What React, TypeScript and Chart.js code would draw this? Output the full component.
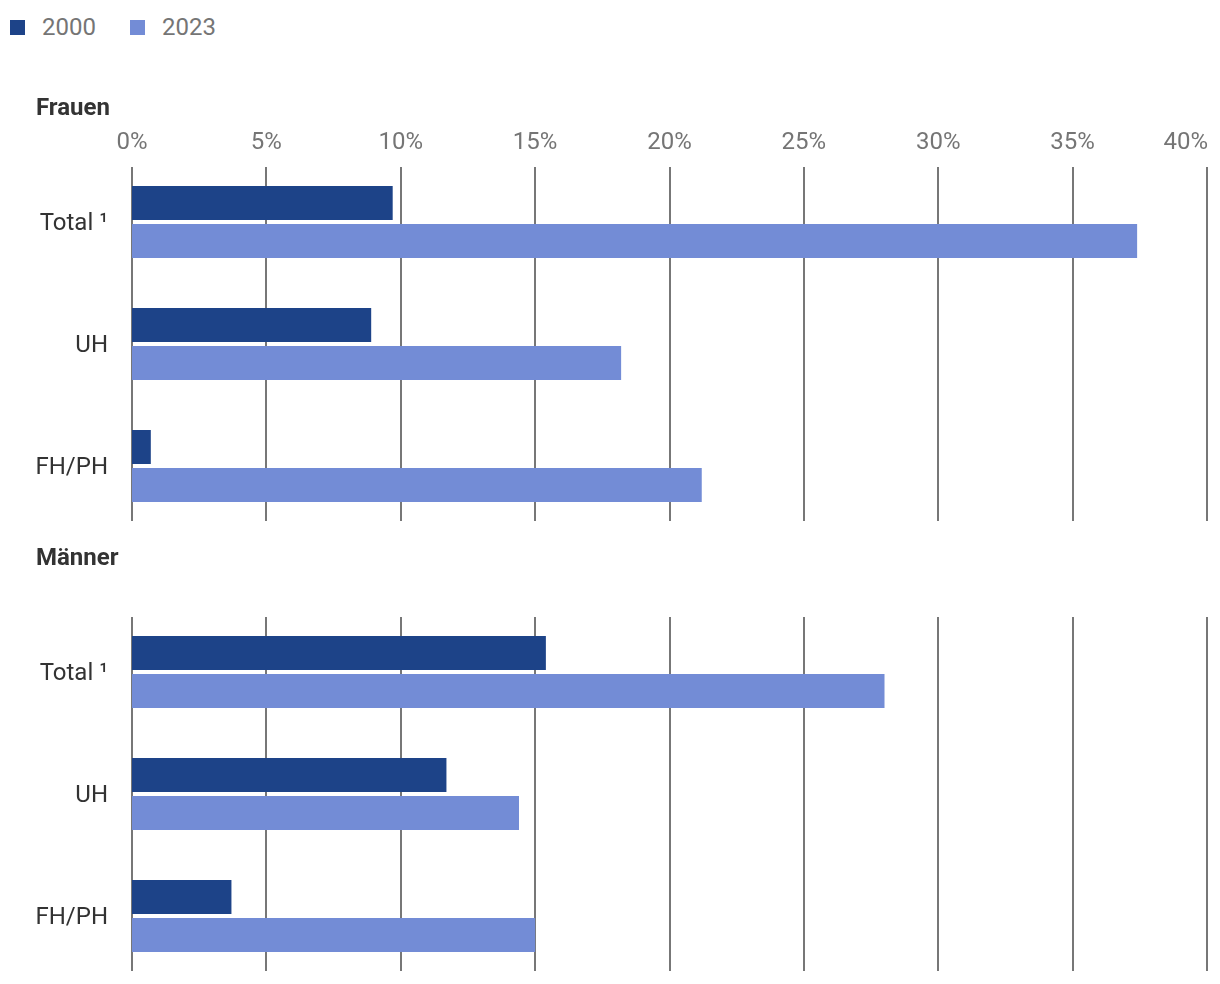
import React, { useEffect, useRef } from "react";
import { Chart, registerables } from "chart.js";

Chart.register(...registerables);

const categories = ["Total ¹", "UH", "FH/PH"];
const seriesNames = ["2000", "2023"];
const frauen2000 = [9.7, 8.9, 0.7];
const frauen2023 = [37.4, 18.2, 21.2];
const maenner2000 = [15.4, 11.7, 3.7];
const maenner2023 = [28.0, 14.4, 15.0];
const xMin = 0;
const xMax = 40;
const xStep = 5;

const COLORS = ["#1d4388", "#738cd6"];
const GRID = "#777777";
const TICK_COLOR = "#757575";
const LABEL_COLOR = "#333333";
const FONT = "Roboto";
const TICK_PAD = 3.5;
const TICK_SIZE = 24;

const shortGrid = {
  id: "shortGrid",
  beforeDatasetsDraw(chart: any) {
    const { ctx, chartArea, scales } = chart;
    const x = scales.x;
    ctx.save();
    ctx.strokeStyle = GRID;
    ctx.lineWidth = 2;
    x.ticks.forEach((t: any) => {
      const px = Math.round(x.getPixelForValue(t.value));
      ctx.beginPath();
      ctx.moveTo(px, chartArea.top + 6);
      ctx.lineTo(px, chartArea.bottom - 6);
      ctx.stroke();
    });
    ctx.restore();
  },
};

const lastTickLabel = {
  id: "lastTickLabel",
  afterDraw(chart: any, _args: any, opts: any) {
    if (!opts || !opts.show) return;
    const { ctx, scales } = chart;
    const x = scales.x;
    const last = x.ticks[x.ticks.length - 1];
    if (!last) return;
    const px = x.getPixelForValue(last.value);
    const lineHeight = TICK_SIZE * 1.2;
    ctx.save();
    ctx.font = `${TICK_SIZE}px ${FONT}`;
    ctx.fillStyle = TICK_COLOR;
    ctx.textAlign = "right";
    ctx.textBaseline = "middle";
    ctx.fillText(last.label, px + 1, x.bottom - TICK_PAD - lineHeight / 2);
    ctx.restore();
  },
};

function Panel({ title, d2000, d2023, showTicks, top }: any) {
  const ref = useRef<HTMLCanvasElement | null>(null);
  useEffect(() => {
    if (!ref.current) return;
    const chart = new Chart(ref.current, {
      type: "bar",
      data: {
        labels: categories,
        datasets: [
          {
            label: seriesNames[0],
            data: d2000,
            backgroundColor: COLORS[0],
            categoryPercentage: 76 / 122,
            barPercentage: 34 / 38,
          },
          {
            label: seriesNames[1],
            data: d2023,
            backgroundColor: COLORS[1],
            categoryPercentage: 76 / 122,
            barPercentage: 34 / 38,
          },
        ],
      },
      options: {
        indexAxis: "y",
        animation: false,
        responsive: true,
        maintainAspectRatio: false,
        layout: { padding: { left: 36, right: 13, top: 0, bottom: 7 } },
        plugins: {
          legend: { display: false },
          tooltip: { enabled: false },
          title: {
            display: true,
            text: title,
            align: "start",
            color: LABEL_COLOR,
            font: { family: FONT, size: 24, weight: "bold" },
            padding: { top: 10.5, bottom: 0 },
          },
          lastTickLabel: { show: showTicks },
        } as any,
        scales: {
          x: {
            type: "linear",
            position: "top",
            min: xMin,
            max: xMax,
            grid: { display: false, drawTicks: false },
            border: { display: false },
            afterFit: (s: any) => {
              s.height = 37.7;
              s.paddingLeft = 0;
              s.paddingRight = 0;
            },
            ticks: {
              stepSize: xStep,
              padding: TICK_PAD,
              font: { family: FONT, size: TICK_SIZE },
              color: (c: any) =>
                !showTicks || c.tick?.value === xMax ? "rgba(0,0,0,0)" : TICK_COLOR,
              callback: (v: any) => `${v}%`,
            },
          },
          y: {
            grid: { display: false, drawTicks: false },
            border: { display: false },
            afterFit: (s: any) => {
              s.width = 96;
              s.paddingTop = 0;
              s.paddingBottom = 0;
            },
            ticks: {
              padding: 24,
              labelOffset: 2,
              font: { family: FONT, size: TICK_SIZE },
              color: LABEL_COLOR,
            },
          },
        },
      } as any,
      plugins: [shortGrid, lastTickLabel],
    });
    return () => chart.destroy();
  }, []);
  return (
    <div style={{ position: "absolute", left: 0, top, width: 1220, height: 450 }}>
      <canvas ref={ref} />
    </div>
  );
}

function LegendItem({ color, label, left, textLeft }: any) {
  return (
    <>
      <div
        style={{
          position: "absolute",
          left,
          top: 20,
          width: 15,
          height: 15,
          background: color,
        }}
      />
      <div
        style={{
          position: "absolute",
          left: textLeft,
          top: 13,
          fontFamily: FONT,
          fontSize: 24,
          lineHeight: "28px",
          color: TICK_COLOR,
          whiteSpace: "nowrap",
        }}
      >
        {label}
      </div>
    </>
  );
}

export default function App() {
  return (
    <div
      style={{
        position: "absolute",
        left: 0,
        top: 0,
        width: 1220,
        height: 984,
        background: "#ffffff",
        overflow: "hidden",
      }}
    >
      <LegendItem color={COLORS[0]} label={seriesNames[0]} left={10} textLeft={42} />
      <LegendItem color={COLORS[1]} label={seriesNames[1]} left={130} textLeft={162} />
      <Panel title="Frauen" d2000={frauen2000} d2023={frauen2023} showTicks={true} top={84} />
      <Panel title="Männer" d2000={maenner2000} d2023={maenner2023} showTicks={false} top={534} />
    </div>
  );
}
